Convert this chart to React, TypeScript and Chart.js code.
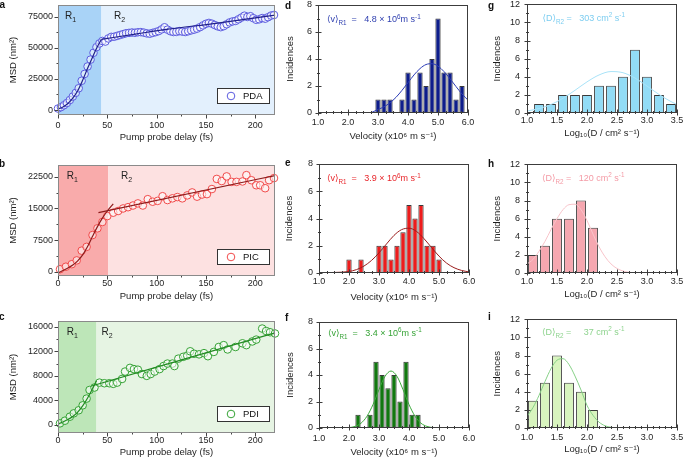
import { useEffect, useRef } from "react";
import { Chart, registerables } from "chart.js";

Chart.register(...registerables);

const FONT = "'Liberation Sans', Arial, 'DejaVu Sans', sans-serif";
const TICK_SIZE = 9;
const TITLE_SIZE = 9.5;
const INK = "#1e1e1e";

// ---------------- a : PDA ----------------
const A_DELAY = [0, 3, 6, 9, 12, 15, 18, 21, 24, 27, 30, 33, 36, 39, 42, 45, 48, 51, 54, 57, 60, 63, 66, 69, 72, 75, 78, 81, 84, 87, 90, 93, 96, 99, 102, 105, 108, 111, 114, 117, 120, 123, 126, 129, 132, 135, 138, 141, 144, 147, 150, 153, 156, 159, 162, 165, 168, 171, 174, 177, 180, 183, 186, 189, 192, 195, 198, 201, 204, 207, 210, 213, 216, 219];
const A_MSD = [1200, 2300, 3800, 5600, 8000, 10800, 13800, 17500, 23500, 29000, 35000, 40500, 46000, 50500, 53500, 55500, 55000, 57500, 58800, 58900, 59600, 60300, 61000, 61700, 62000, 62300, 62100, 62500, 62600, 62200, 61600, 61300, 62000, 62600, 63400, 64800, 66500, 64600, 63300, 62700, 62800, 63400, 63000, 62700, 63300, 64000, 64600, 65400, 66600, 68000, 69300, 70000, 69400, 68300, 67200, 66600, 67400, 68900, 70400, 71200, 71600, 72900, 74300, 75800, 74800, 75400, 73800, 72500, 72900, 73900, 73400, 74600, 75900, 76400];
const A_FIT_R1_X = [0, 5, 10, 15, 20, 25, 30, 35, 40, 44];
const A_FIT_R1_Y = [800, 2500, 5200, 9500, 15500, 24000, 33500, 42500, 51000, 56800];
const A_FIT_R2_X = [44, 80, 110, 160, 220];
const A_FIT_R2_Y = [56800, 61200, 64800, 69700, 76300];
const A_R1_END = 44;

// ---------------- b : PIC ----------------
const B_DELAY = [2, 8, 14, 19, 24, 29, 35, 40, 45, 50, 56, 61, 66, 71, 76, 81, 86, 91, 96, 101, 106, 111, 116, 121, 126, 131, 136, 141, 146, 151, 156, 161, 166, 171, 176, 181, 187, 191, 196, 201, 205, 210, 214, 219];
const B_MSD = [600, 1200, 1800, 2700, 5000, 5900, 8700, 10300, 11800, 13200, 14000, 14400, 15000, 15300, 15700, 16200, 15700, 17200, 16600, 16800, 17900, 17000, 17400, 17700, 17400, 18100, 18800, 17800, 18300, 18400, 19600, 22000, 21500, 22600, 21300, 21300, 21400, 22900, 21700, 20500, 20500, 19800, 21700, 22200];
const B_FIT_R1_X = [0, 5, 10, 15, 20, 25, 30, 35, 40, 45, 50, 56];
const B_FIT_R1_Y = [-300, 300, 900, 1600, 2600, 4000, 6000, 8400, 10700, 12700, 14400, 16100];
const B_FIT_R2_X = [41, 220];
const B_FIT_R2_Y = [14000, 22800];
const B_R1_END = 51;

// ---------------- c : PDI ----------------
const C_DELAY = [2, 7, 12, 16, 21, 25, 29, 32, 37, 42, 47, 52, 56, 60, 65, 68, 73, 77, 81, 85, 90, 94, 98, 103, 107, 111, 116, 118, 122, 127, 131, 134, 138, 143, 148, 152, 158, 163, 168, 172, 180, 187, 191, 197, 201, 207, 211, 215, 220];
const C_MSD = [270, 700, 1350, 1900, 2400, 3200, 4300, 5700, 6100, 6900, 6800, 6800, 6700, 6900, 7500, 8700, 9300, 9100, 9000, 8300, 8000, 8300, 8700, 9100, 9600, 10000, 10000, 9600, 10800, 11100, 11300, 12000, 11600, 11500, 11700, 11200, 11900, 12700, 13000, 12300, 12700, 13300, 13000, 13600, 13900, 15700, 15300, 15100, 14900];
const C_FIT_R1_X = [0, 5, 10, 15, 20, 25, 30, 35, 39];
const C_FIT_R1_Y = [150, 500, 900, 1400, 2100, 3100, 4400, 5900, 7200];
const C_FIT_R2_X = [34, 220];
const C_FIT_R2_Y = [6350, 15000];
const C_R1_END = 39;

// ---------------- d, e, f : velocity histograms ----------------
const D_VEL = [3.0, 3.2, 3.4, 3.8, 4.0, 4.2, 4.4, 4.6, 4.8, 5.0, 5.2, 5.4, 5.6, 5.8];
const D_COUNT = [1, 1, 1, 1, 3, 1, 3, 2, 4, 7, 3, 3, 1, 2];
const D_FIT_X = [2.8, 3.0, 3.2, 3.4, 3.6, 3.8, 4.0, 4.2, 4.4, 4.6, 4.8, 5.0, 5.2, 5.4, 5.6, 5.8, 6.0];
const D_FIT_Y = [0.05, 0.26, 0.46, 0.76, 1.16, 1.68, 2.25, 2.82, 3.29, 3.59, 3.65, 3.47, 3.07, 2.54, 1.96, 1.41, 0.95];

const E_VEL = [2.0, 2.4, 3.0, 3.2, 3.4, 3.6, 3.8, 4.0, 4.2, 4.4, 4.6, 4.8, 5.0];
const E_COUNT = [1, 1, 2, 2, 1, 2, 3, 5, 4, 5, 2, 2, 1];
const E_FIT_X = [1.0, 1.5, 2.0, 2.25, 2.5, 2.75, 3.0, 3.25, 3.5, 3.75, 4.0, 4.25, 4.5, 4.75, 5.0, 5.25, 5.5, 5.75, 6.0];
const E_FIT_Y = [0.02, 0.04, 0.11, 0.25, 0.51, 0.92, 1.48, 2.13, 2.76, 3.18, 3.29, 3.05, 2.52, 1.87, 1.24, 0.73, 0.39, 0.19, 0.08];

const F_VEL = [2.3, 2.7, 2.9, 3.1, 3.3, 3.5, 3.7, 3.9, 4.1, 4.3];
const F_COUNT = [1, 1, 5, 4, 3, 4, 2, 5, 1, 1];
const F_FIT_X = [1.6, 1.8, 2.0, 2.2, 2.4, 2.6, 2.8, 3.0, 3.2, 3.4, 3.6, 3.8, 4.0, 4.2, 4.4, 4.6, 4.8, 5.0];
const F_FIT_Y = [0.0, 0.01, 0.03, 0.12, 0.36, 0.89, 1.77, 2.9, 3.9, 4.3, 3.9, 2.9, 1.77, 0.89, 0.36, 0.12, 0.03, 0.01];

// ---------------- g, h, i : diffusion histograms ----------------
const G_LOGD = [1.2, 1.4, 1.6, 1.8, 2.0, 2.2, 2.4, 2.6, 2.8, 3.0, 3.2, 3.4];
const G_COUNT = [1, 1, 2, 2, 2, 3, 3, 4, 7, 4, 2, 1];
const G_FIT_X = [1.0, 1.2, 1.4, 1.6, 1.8, 2.0, 2.2, 2.4, 2.6, 2.8, 3.0, 3.2, 3.4, 3.5];
const G_FIT_Y = [0.22, 0.49, 0.94, 1.63, 2.51, 3.44, 4.2, 4.58, 4.45, 3.86, 2.98, 2.05, 1.26, 0.94];

const H_LOGD = [1.1, 1.3, 1.5, 1.7, 1.9, 2.1];
const H_COUNT = [2, 3, 6, 6, 8, 5];
const H_FIT_X = [1.0, 1.1, 1.2, 1.3, 1.4, 1.5, 1.6, 1.7, 1.8, 1.9, 2.0, 2.1, 2.2, 2.3, 2.4, 2.5, 2.6, 2.7, 2.8];
const H_FIT_Y = [1.0, 1.5, 2.4, 3.5, 4.8, 6.0, 7.0, 7.55, 7.6, 7.0, 5.8, 4.3, 2.9, 1.8, 1.0, 0.5, 0.22, 0.08, 0.02];

const I_LOGD = [1.1, 1.3, 1.5, 1.7, 1.9, 2.1];
const I_COUNT = [3, 5, 8, 5, 4, 2];
const I_FIT_X = [1.0, 1.1, 1.2, 1.3, 1.4, 1.5, 1.6, 1.7, 1.8, 1.9, 2.0, 2.1, 2.2, 2.3, 2.4, 2.5];
const I_FIT_Y = [1.27, 2.26, 3.6, 5.14, 6.56, 7.49, 7.66, 7.01, 5.74, 4.2, 2.5, 1.4, 0.65, 0.25, 0.08, 0.02];

// ---------------- ticks ----------------
const TIME_TICKS = [0, 50, 100, 150, 200];
const TIME_MINOR = [25, 75, 125, 175];
const A_MSD_TICKS = [0, 25000, 50000, 75000];
const A_MSD_MINOR = [12500, 37500, 62500];
const B_MSD_TICKS = [0, 7500, 15000, 22500];
const B_MSD_MINOR = [3750, 11250, 18750];
const C_MSD_TICKS = [0, 4000, 8000, 12000, 16000];
const C_MSD_MINOR = [2000, 6000, 10000, 14000];
const VEL_TICKS = [1, 2, 3, 4, 5, 6];
const VEL_MINOR = [1.25, 1.5, 1.75, 2.25, 2.5, 2.75, 3.25, 3.5, 3.75, 4.25, 4.5, 4.75, 5.25, 5.5, 5.75];
const N8_TICKS = [0, 2, 4, 6, 8];
const N8_MINOR = [1, 3, 5, 7];
const LOGD_TICKS = [1, 1.5, 2, 2.5, 3, 3.5];
const LOGD_MINOR = [1.1, 1.2, 1.3, 1.4, 1.6, 1.7, 1.8, 1.9, 2.1, 2.2, 2.3, 2.4, 2.6, 2.7, 2.8, 2.9, 3.1, 3.2, 3.3, 3.4];
const N12_TICKS = [0, 2, 4, 6, 8, 10, 12];
const N12_MINOR = [1, 3, 5, 7, 9, 11];

// ---------------- helpers ----------------
type Seg = { t: string; k?: "sub" | "sup" };

interface Geo { L: number; T: number; R: number; B: number; yTitleX: number; xTickY: number; xTitleY: number; yTickGap: number }
interface Frame {
  xMin: number; xMax: number; yMin: number; yMax: number;
  xTicks: number[]; xMinor: number[]; yTicks: number[]; yMinor: number[];
  xFmt: (v: number) => string; xTitle: string; yTitle: string;
}
interface Box { left: number; top: number; w: number; h: number }

const pts = (xs: number[], ys: number[]) => xs.map((x, i) => ({ x, y: ys[i] }));

function canvasBox(g: Geo): Box {
  const left = Math.floor(g.yTitleX - 10);
  const top = g.T - 12;
  const right = g.R + 14;
  const bottom = Math.ceil(g.xTitleY + 9);
  return { left, top, w: right - left, h: bottom - top };
}

function drawRich(ctx: CanvasRenderingContext2D, segs: Seg[], x: number, y: number, size: number, color: string) {
  ctx.save();
  ctx.fillStyle = color;
  ctx.textAlign = "left";
  ctx.textBaseline = "alphabetic";
  const base = y + size * 0.35;
  let cx = x;
  for (const s of segs) {
    const fs = s.k ? size * 0.7 : size;
    ctx.font = `${fs}px ${FONT}`;
    const dy = s.k === "sub" ? size * 0.3 : s.k === "sup" ? -size * 0.42 : 0;
    ctx.fillText(s.t, cx, base + dy);
    cx += ctx.measureText(s.t).width;
  }
  ctx.restore();
}

function drawFrame(chart: any, f: Frame, box: string, tick: string, out: number, inn: number, mOut: number, mIn: number) {
  const { ctx, chartArea: ca } = chart;
  const xs = chart.scales.x;
  const ys = chart.scales.y;
  ctx.save();
  ctx.lineWidth = 1;
  ctx.strokeStyle = tick;
  ctx.beginPath();
  const by = Math.round(ca.bottom) - 0.5;
  const lx = Math.round(ca.left) + 0.5;
  const xt = (vals: number[], o: number, i: number) => {
    for (const v of vals) {
      const p = Math.round(xs.getPixelForValue(v)) + 0.5;
      ctx.moveTo(p, by - i);
      ctx.lineTo(p, by + o);
    }
  };
  const yt = (vals: number[], o: number, i: number) => {
    for (const v of vals) {
      const p = Math.round(ys.getPixelForValue(v)) + 0.5;
      ctx.moveTo(lx - o, p);
      ctx.lineTo(lx + i, p);
    }
  };
  xt(f.xTicks, out, inn);
  xt(f.xMinor, mOut, mIn);
  yt(f.yTicks, out, inn);
  yt(f.yMinor, mOut, mIn);
  ctx.stroke();
  ctx.strokeStyle = box;
  ctx.strokeRect(Math.round(ca.left) + 0.5, Math.round(ca.top) + 0.5, Math.round(ca.right) - Math.round(ca.left) - 1, Math.round(ca.bottom) - Math.round(ca.top) - 1);
  ctx.restore();
}

function baseOptions(g: Geo, b: Box, f: Frame) {
  const lhT = TITLE_SIZE * 1.2;
  const lhK = TICK_SIZE * 1.2;
  const tickFont = { family: FONT, size: TICK_SIZE };
  const titleFont = { family: FONT, size: TITLE_SIZE };
  return {
    responsive: false,
    animation: false as const,
    events: [] as any[],
    layout: { padding: { left: 0, top: g.T - b.top, right: b.left + b.w - g.R, bottom: 0 } },
    plugins: { legend: { display: false }, tooltip: { enabled: false } },
    scales: {
      x: {
        type: "linear" as const,
        min: f.xMin,
        max: f.xMax,
        offset: false,
        grid: { display: false, drawTicks: false, offset: false },
        border: { display: false },
        afterBuildTicks: (s: any) => { s.ticks = f.xTicks.map((v) => ({ value: v })); },
        afterFit: (s: any) => { s.height = b.top + b.h - g.B; },
        ticks: {
          font: tickFont, color: INK, padding: g.xTickY - g.B - lhK / 2,
          maxRotation: 0, autoSkip: false,
          callback: (v: any) => f.xFmt(Number(v)),
        },
        title: {
          display: true, text: f.xTitle, font: titleFont, color: INK,
          padding: { top: 0, bottom: b.top + b.h - g.xTitleY - lhT / 2 },
        },
      },
      y: {
        type: "linear" as const,
        min: f.yMin,
        max: f.yMax,
        beginAtZero: false,
        grid: { display: false, drawTicks: false },
        border: { display: false },
        afterBuildTicks: (s: any) => { s.ticks = f.yTicks.map((v) => ({ value: v })); },
        afterFit: (s: any) => { s.width = g.L - b.left; },
        ticks: {
          font: tickFont, color: INK, padding: g.yTickGap, autoSkip: false,
          callback: (v: any) => String(v),
        },
        title: {
          display: true, text: f.yTitle, font: titleFont, color: INK,
          padding: { top: g.yTitleX - b.left - lhT / 2, bottom: 0 },
        },
      },
    },
  };
}

interface PanelDef { geo: Geo; build: (b: Box) => any }

interface MsdDef {
  geo: Geo; frame: Frame;
  delay: number[]; msd: number[];
  fit1x: number[]; fit1y: number[]; fit2x: number[]; fit2y: number[];
  r1End: number; r1Fill: string; r2Fill: string;
  pointColor: string; lineColor: string;
  r1Dx: number; r2Dx: number; rDy: number; legend: string;
}

function msdPanel(d: MsdDef): PanelDef {
  return {
    geo: d.geo,
    build: (b: Box) => ({
      type: "scatter",
      data: {
        datasets: [
          { data: pts(d.fit1x, d.fit1y), showLine: true, borderColor: d.lineColor, borderWidth: 1.2, pointRadius: 0, cubicInterpolationMode: "monotone", order: 0, clip: false },
          { data: pts(d.fit2x, d.fit2y), showLine: true, borderColor: d.lineColor, borderWidth: 1.2, pointRadius: 0, cubicInterpolationMode: "monotone", order: 0, clip: false },
          { data: pts(d.delay, d.msd), showLine: false, pointRadius: 3.8, pointBorderWidth: 1, pointBorderColor: d.pointColor, pointBackgroundColor: "rgba(255,255,255,0.55)", order: 1, clip: false },
        ],
      },
      options: baseOptions(d.geo, b, d.frame),
      plugins: [
        {
          id: "msdDecor",
          beforeDatasetsDraw(chart: any) {
            const { ctx, chartArea: ca } = chart;
            const xb = chart.scales.x.getPixelForValue(d.r1End);
            ctx.save();
            ctx.fillStyle = d.r1Fill;
            ctx.fillRect(ca.left, ca.top, xb - ca.left, ca.bottom - ca.top);
            ctx.fillStyle = d.r2Fill;
            ctx.fillRect(xb, ca.top, ca.right - xb, ca.bottom - ca.top);
            ctx.restore();
            drawRich(ctx, [{ t: "R" }, { t: "1", k: "sub" }], ca.left + d.r1Dx, ca.top + d.rDy, 10, "#222");
            drawRich(ctx, [{ t: "R" }, { t: "2", k: "sub" }], xb + d.r2Dx, ca.top + d.rDy, 10, "#222");
          },
          afterDatasetsDraw(chart: any) {
            const { ctx, chartArea: ca } = chart;
            const lw = 52, lh = 15;
            const lx = Math.round(ca.right - 6 - lw);
            const ly = Math.round(ca.bottom - 12 - lh);
            ctx.save();
            ctx.fillStyle = "#fff";
            ctx.fillRect(lx, ly, lw, lh);
            ctx.strokeStyle = "#333";
            ctx.lineWidth = 1;
            ctx.strokeRect(lx + 0.5, ly + 0.5, lw, lh);
            ctx.beginPath();
            ctx.arc(lx + 14, ly + lh / 2 + 0.5, 3.8, 0, Math.PI * 2);
            ctx.strokeStyle = d.pointColor;
            ctx.stroke();
            ctx.restore();
            drawRich(ctx, [{ t: d.legend }], lx + 26, ly + lh / 2 + 0.5, 9.5, "#111");
            drawFrame(chart, d.frame, "#8a8a8a", "#444", 4, 0, 2, 0);
          },
        },
      ],
    }),
  };
}

interface HistDef {
  geo: Geo; frame: Frame;
  bins: number[]; counts: number[]; fitx: number[]; fity: number[];
  barColor: string; lineColor: string; textColor: string;
  segs: Seg[]; textDx: number; textDy: number; barPct: number;
}

function histPanel(d: HistDef): PanelDef {
  return {
    geo: d.geo,
    build: (b: Box) => ({
      type: "bar",
      data: {
        datasets: [
          { type: "line", data: pts(d.fitx, d.fity), borderColor: d.lineColor, borderWidth: 1, pointRadius: 0, cubicInterpolationMode: "monotone", order: 0 },
          { type: "bar", data: pts(d.bins, d.counts), backgroundColor: d.barColor, borderColor: "#3a3a3a", borderWidth: 1, categoryPercentage: 1, barPercentage: d.barPct, order: 1 },
        ],
      },
      options: baseOptions(d.geo, b, d.frame),
      plugins: [
        {
          id: "histDecor",
          afterDatasetsDraw(chart: any) {
            const { ctx, chartArea: ca } = chart;
            drawRich(ctx, d.segs, ca.left + d.textDx, ca.top + d.textDy, 9, d.textColor);
            drawFrame(chart, d.frame, "#3c3c3c", "#3c3c3c", 3, 3, 1.5, 1.5);
          },
        },
      ],
    }),
  };
}

// ---------------- frames ----------------
const fmtInt = (v: number) => String(v);
const fmt1 = (v: number) => v.toFixed(1);
const TIME_TITLE = "Pump probe delay (fs)";
const MSD_TITLE = "MSD (nm²)";
const VEL_TITLE = "Velocity (x10⁶ m s⁻¹)";
const LOGD_TITLE = "Log₁₀(D / cm² s⁻¹)";
const N_TITLE = "Incidences";

const msdFrame = (yMin: number, yMax: number, yTicks: number[], yMinor: number[]): Frame => ({
  xMin: 0, xMax: 220, yMin, yMax, xTicks: TIME_TICKS, xMinor: TIME_MINOR, yTicks, yMinor,
  xFmt: fmtInt, xTitle: TIME_TITLE, yTitle: MSD_TITLE,
});
const velFrame: Frame = { xMin: 1, xMax: 6, yMin: 0, yMax: 8, xTicks: VEL_TICKS, xMinor: VEL_MINOR, yTicks: N8_TICKS, yMinor: N8_MINOR, xFmt: fmt1, xTitle: VEL_TITLE, yTitle: N_TITLE };
const logFrame: Frame = { xMin: 1, xMax: 3.5, yMin: 0, yMax: 12, xTicks: LOGD_TICKS, xMinor: LOGD_MINOR, yTicks: N12_TICKS, yMinor: N12_MINOR, xFmt: fmt1, xTitle: LOGD_TITLE, yTitle: N_TITLE };

const velSegs = (v: string): Seg[] => [{ t: "⟨v⟩" }, { t: "R1", k: "sub" }, { t: "  =   " + v + " × 10" }, { t: "6", k: "sup" }, { t: "m s" }, { t: "-1", k: "sup" }];
const dSegs = (v: string): Seg[] => [{ t: "⟨D⟩" }, { t: "R2", k: "sub" }, { t: " =   " + v + " cm" }, { t: "2", k: "sup" }, { t: " s" }, { t: "-1", k: "sup" }];

const PANELS: PanelDef[] = [
  msdPanel({
    geo: { L: 58, T: 5, R: 275, B: 115, yTitleX: 13, xTickY: 126, xTitleY: 137, yTickGap: 5 },
    frame: msdFrame(-4000, 84400, A_MSD_TICKS, A_MSD_MINOR),
    delay: A_DELAY, msd: A_MSD, fit1x: A_FIT_R1_X, fit1y: A_FIT_R1_Y, fit2x: A_FIT_R2_X, fit2y: A_FIT_R2_Y,
    r1End: A_R1_END, r1Fill: "#a9d3f7", r2Fill: "#e3f0fd", pointColor: "#5c5ce0", lineColor: "#20208a",
    r1Dx: 7, r2Dx: 12.6, rDy: 10, legend: "PDA",
  }),
  msdPanel({
    geo: { L: 58, T: 165, R: 275, B: 276, yTitleX: 13, xTickY: 283.5, xTitleY: 296.5, yTickGap: 5 },
    frame: msdFrame(-1000, 25300, B_MSD_TICKS, B_MSD_MINOR),
    delay: B_DELAY, msd: B_MSD, fit1x: B_FIT_R1_X, fit1y: B_FIT_R1_Y, fit2x: B_FIT_R2_X, fit2y: B_FIT_R2_Y,
    r1End: B_R1_END, r1Fill: "#f9abab", r2Fill: "#fde1e1", pointColor: "#f24b4b", lineColor: "#8e1b1b",
    r1Dx: 8.7, r2Dx: 12.7, rDy: 10, legend: "PIC",
  }),
  msdPanel({
    geo: { L: 58, T: 321, R: 275, B: 433, yTitleX: 13, xTickY: 440.5, xTitleY: 452, yTickGap: 5 },
    frame: msdFrame(-1300, 16930, C_MSD_TICKS, C_MSD_MINOR),
    delay: C_DELAY, msd: C_MSD, fit1x: C_FIT_R1_X, fit1y: C_FIT_R1_Y, fit2x: C_FIT_R2_X, fit2y: C_FIT_R2_Y,
    r1End: C_R1_END, r1Fill: "#bde6b8", r2Fill: "#e6f4e3", pointColor: "#36a336", lineColor: "#228b22",
    r1Dx: 8.7, r2Dx: 5, rDy: 10.7, legend: "PDI",
  }),
  histPanel({
    geo: { L: 318, T: 5, R: 468, B: 113, yTitleX: 290, xTickY: 122.5, xTitleY: 136.5, yTickGap: 6 },
    frame: velFrame, bins: D_VEL, counts: D_COUNT, fitx: D_FIT_X, fity: D_FIT_Y,
    barColor: "#0e1d8c", lineColor: "#2b3bb5", textColor: "#3040b0", segs: velSegs("4.8"), textDx: 9, textDy: 14.3, barPct: 0.88,
  }),
  histPanel({
    geo: { L: 319, T: 164, R: 469, B: 273, yTitleX: 289.5, xTickY: 282, xTitleY: 297, yTickGap: 6 },
    frame: velFrame, bins: E_VEL, counts: E_COUNT, fitx: E_FIT_X, fity: E_FIT_Y,
    barColor: "#ee1c1c", lineColor: "#9b1d1d", textColor: "#e8262b", segs: velSegs("3.9"), textDx: 8, textDy: 14.3, barPct: 0.88,
  }),
  histPanel({
    geo: { L: 319, T: 322, R: 469, B: 428, yTitleX: 290, xTickY: 438.5, xTitleY: 452.5, yTickGap: 6 },
    frame: velFrame, bins: F_VEL, counts: F_COUNT, fitx: F_FIT_X, fity: F_FIT_Y,
    barColor: "#11780f", lineColor: "#3aa93a", textColor: "#36a336", segs: velSegs("3.4"), textDx: 9, textDy: 11, barPct: 0.88,
  }),
  histPanel({
    geo: { L: 527, T: 4, R: 677, B: 113, yTitleX: 497, xTickY: 121, xTitleY: 133.5, yTickGap: 7 },
    frame: logFrame, bins: G_LOGD, counts: G_COUNT, fitx: G_FIT_X, fity: G_FIT_Y,
    barColor: "#92dcf6", lineColor: "#a9e3f8", textColor: "#7dcdf0", segs: dSegs("303"), textDx: 15.5, textDy: 13.3, barPct: 0.82,
  }),
  histPanel({
    geo: { L: 527, T: 164, R: 677, B: 273, yTitleX: 497, xTickY: 281.5, xTitleY: 294.5, yTickGap: 7 },
    frame: logFrame, bins: H_LOGD, counts: H_COUNT, fitx: H_FIT_X, fity: H_FIT_Y,
    barColor: "#f6a7b0", lineColor: "#f8c4ca", textColor: "#f49aa5", segs: dSegs("120"), textDx: 15, textDy: 13.3, barPct: 0.82,
  }),
  histPanel({
    geo: { L: 527, T: 319, R: 677, B: 428, yTitleX: 497, xTickY: 437.5, xTitleY: 449.5, yTickGap: 7 },
    frame: logFrame, bins: I_LOGD, counts: I_COUNT, fitx: I_FIT_X, fity: I_FIT_Y,
    barColor: "#d8f4be", lineColor: "#86d086", textColor: "#8dd38d", segs: dSegs("  37"), textDx: 15, textDy: 12.4, barPct: 0.82,
  }),
];

const LETTERS = [
  { t: "a", x: 2.5, y: 5 }, { t: "b", x: 2, y: 164 }, { t: "c", x: 2, y: 317 },
  { t: "d", x: 288, y: 5.5 }, { t: "e", x: 288, y: 162.5 }, { t: "f", x: 288, y: 318 },
  { t: "g", x: 491, y: 5.5 }, { t: "h", x: 491, y: 164 }, { t: "i", x: 491, y: 317 },
];

function ChartPanel({ def }: { def: PanelDef }) {
  const ref = useRef<HTMLCanvasElement | null>(null);
  const box = canvasBox(def.geo);
  useEffect(() => {
    if (!ref.current) return;
    const chart = new Chart(ref.current, def.build(box));
    return () => chart.destroy();
  }, []);
  return (
    <canvas
      ref={ref}
      width={box.w}
      height={box.h}
      style={{ position: "absolute", left: box.left, top: box.top, width: box.w, height: box.h }}
    />
  );
}

export default function App() {
  return (
    <div style={{ position: "fixed", left: 0, top: 0, width: 685, height: 458, background: "#fff", overflow: "hidden" }}>
      {PANELS.map((p, i) => (
        <ChartPanel key={i} def={p} />
      ))}
      {LETTERS.map((l) => (
        <div
          key={l.t}
          style={{ position: "absolute", left: l.x - 3, top: l.y - 6, font: `bold 10px ${FONT}`, lineHeight: "12px", color: "#111" }}
        >
          {l.t}
        </div>
      ))}
    </div>
  );
}
